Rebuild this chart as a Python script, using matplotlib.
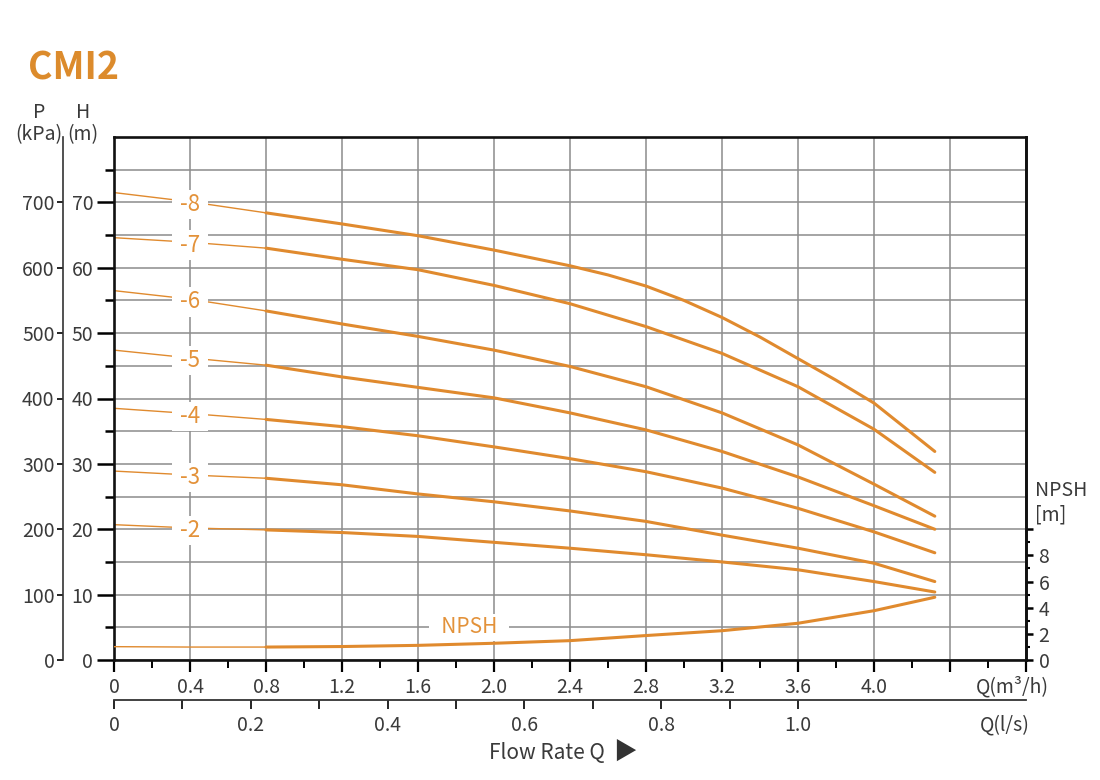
import numpy as np
import matplotlib
matplotlib.use("Agg")
import matplotlib.pyplot as plt
from matplotlib.ticker import FixedLocator, FixedFormatter

plt.rcParams['font.family'] = ['Noto Sans CJK SC', 'DejaVu Sans']

# flow rate (m3/h) and head (m) for each stage count
flow = [0, 0.4, 0.8, 1.2, 1.6, 2.0, 2.4, 2.8, 3.2, 3.6, 4.0, 4.32]
head_7 = [64.6, 63.9, 63.0, 61.3, 59.7, 57.3, 54.5, 51.0, 46.9, 41.8, 35.3, 28.7]
head_6 = [56.5, 55.2, 53.4, 51.4, 49.5, 47.4, 44.9, 41.8, 37.8, 32.9, 26.9, 22.0]
head_5 = [47.4, 46.2, 45.1, 43.3, 41.7, 40.1, 37.8, 35.2, 31.9, 28.0, 23.6, 20.0]
head_4 = [38.5, 37.7, 36.8, 35.7, 34.3, 32.6, 30.8, 28.8, 26.3, 23.2, 19.6, 16.4]
head_3 = [28.9, 28.3, 27.8, 26.8, 25.4, 24.2, 22.8, 21.2, 19.1, 17.1, 14.8, 12.0]
head_2 = [20.7, 20.2, 19.9, 19.5, 18.9, 18.0, 17.1, 16.1, 15.0, 13.8, 12.0, 10.4]
npsh = [1.02, 0.99, 0.99, 1.03, 1.12, 1.28, 1.48, 1.87, 2.24, 2.81, 3.77, 4.80]

# the -8 curve bends harder, read at more points
flow_8 = [0, 0.4, 0.8, 1.2, 1.6, 2.0, 2.4, 2.6, 2.8, 3.0, 3.2, 3.4, 3.6, 3.8, 4.0, 4.32]
head_8 = [71.5, 70.1, 68.4, 66.7, 64.9, 62.7, 60.3, 58.9, 57.2, 55.0, 52.4, 49.4, 46.1,
          42.8, 39.3, 31.9]

curve_names = ['-8', '-7', '-6', '-5', '-4', '-3', '-2']
curve_flows = [flow_8, flow, flow, flow, flow, flow, flow]
curves = [head_8, head_7, head_6, head_5, head_4, head_3, head_2]

qm3_labels = ['0', '0.4', '0.8', '1.2', '1.6', '2.0', '2.4', '2.8', '3.2', '3.6', '4.0', '', '']
ls_labels = ['0', '0.2', '0.4', '0.6', '0.8', '1.0']
npsh_labels = ['0', '2', '4', '6', '8', '']

ORANGE = '#E08A2E'
LABEL_OR = '#E3923A'
TXT = '#3a3a3a'
GRID = '#8c8c8c'


def draw_curve(axis, qs, vals):
    # thin near shut-off, thick afterwards
    qs = np.array(qs)
    vals = np.array(vals)
    lo = qs <= 0.8
    hi = qs >= 0.8
    axis.plot(qs[lo], vals[lo], color=ORANGE, lw=1.0, zorder=2, solid_capstyle='round')
    axis.plot(qs[hi], vals[hi], color=ORANGE, lw=2.2, zorder=2, solid_capstyle='round',
              solid_joinstyle='round')


fig = plt.figure(figsize=(11, 7.8), dpi=100)
ax = fig.add_axes([114 / 1100, 120 / 780, 912 / 1100, 523 / 780])
ax.set_xlim(0, 4.8)
ax.set_ylim(0, 80)

# grid
ax.set_axisbelow(True)
ax.xaxis.set_major_locator(FixedLocator(np.arange(0, 4.81, 0.4)))
ax.xaxis.set_minor_locator(FixedLocator(np.arange(0.2, 4.8, 0.4)))
ax.xaxis.set_major_formatter(FixedFormatter(qm3_labels))
ax.yaxis.set_major_locator(FixedLocator(np.arange(0, 71, 10)))
ax.yaxis.set_minor_locator(FixedLocator(np.arange(5, 80, 10)))
ax.grid(which='major', axis='x', color=GRID, lw=1.1)
ax.grid(which='both', axis='y', color=GRID, lw=1.1)

for s in ax.spines.values():
    s.set_linewidth(1.9)
    s.set_color('#111111')

ax.tick_params(axis='y', which='major', direction='out', length=12, width=1.8,
               labelsize=14, labelcolor=TXT, pad=3)
ax.tick_params(axis='y', which='minor', direction='out', length=6.5, width=1.8)
ax.tick_params(axis='x', which='major', direction='out', length=8.5, width=1.6,
               labelsize=14, labelcolor=TXT, pad=4)
ax.tick_params(axis='x', which='minor', direction='out', length=5.5, width=1.4)

for name, qs, h in zip(curve_names, curve_flows, curves):
    draw_curve(ax, qs, h)
    ax.annotate(f' {name} ', xy=(0.4, np.interp(0.4, qs, h)), xytext=(0, -2),
                textcoords='offset points', color=LABEL_OR, fontsize=16,
                ha='center', va='center', zorder=4,
                bbox=dict(boxstyle='square,pad=0.14', fc='white', ec='none'))

# P (kPa) axis further left
ax_p = ax.twinx()
ax_p.set_ylim(0, 800)
for k in ['top', 'bottom', 'right']:
    ax_p.spines[k].set_visible(False)
ax_p.spines['left'].set_visible(True)
ax_p.spines['left'].set_position(('axes', -0.056))
ax_p.spines['left'].set_linewidth(1.2)
ax_p.spines['left'].set_color('#333333')
ax_p.yaxis.set_ticks_position('left')
ax_p.set_yticks(np.arange(0, 701, 100))
ax_p.tick_params(axis='y', direction='out', length=4.5, width=1.2,
                 labelsize=14, labelcolor=TXT, pad=1.5)

# NPSH axis on the right
ax_n = ax.twinx()
ax_n.set_ylim(0, 40)
for k in ['top', 'bottom', 'left']:
    ax_n.spines[k].set_visible(False)
ax_n.spines['right'].set_linewidth(1.9)
ax_n.spines['right'].set_color('#111111')
ax_n.yaxis.set_major_locator(FixedLocator(np.arange(0, 11, 2)))
ax_n.yaxis.set_minor_locator(FixedLocator(np.arange(1, 10, 2)))
ax_n.yaxis.set_major_formatter(FixedFormatter(npsh_labels))
ax_n.tick_params(axis='y', which='major', direction='out', length=5, width=1.8,
                 labelsize=14, labelcolor=TXT, pad=4)
ax_n.tick_params(axis='y', which='minor', direction='out', length=3, width=1.5)
draw_curve(ax_n, flow, npsh)
ax_n.text(1.87, 2.5, '  NPSH  ', color=LABEL_OR, fontsize=15, ha='center', va='center',
          bbox=dict(boxstyle='square,pad=0.12', fc='white', ec='none'), zorder=4)

# l/s axis under the m3/h axis
sec = ax.secondary_xaxis(-0.0765, functions=(lambda x: x / 3.6, lambda x: x * 3.6))
sec.xaxis.set_major_locator(FixedLocator(np.arange(0, 1.01, 0.2)))
sec.xaxis.set_minor_locator(FixedLocator(np.arange(0.1, 1.0, 0.2)))
sec.xaxis.set_major_formatter(FixedFormatter(ls_labels))
sec.spines['bottom'].set_linewidth(1.3)
sec.spines['bottom'].set_color('#333333')
sec.tick_params(which='both', direction='out', length=6.5, width=1.2,
                labelsize=14, labelcolor=TXT, pad=4)

# texts
fig.text(28 / 1100, 1 - 68 / 780, 'CMI2', color='#DC8B2C', fontsize=27,
         fontweight='bold', ha='left', va='center')
fig.text(39 / 1100, 1 - 113 / 780, 'P', color=TXT, fontsize=14, ha='center', va='center')
fig.text(39 / 1100, 1 - 135 / 780, '(kPa)', color=TXT, fontsize=14, ha='center', va='center')
fig.text(83 / 1100, 1 - 113 / 780, 'H', color=TXT, fontsize=14, ha='center', va='center')
fig.text(83 / 1100, 1 - 135 / 780, '(m)', color=TXT, fontsize=14, ha='center', va='center')
fig.text(1035 / 1100, 1 - 490 / 780, 'NPSH', color=TXT, fontsize=14, ha='left', va='center')
fig.text(1035 / 1100, 1 - 515 / 780, '[m]', color=TXT, fontsize=14, ha='left', va='center')
fig.text(1012 / 1100, 1 - 687 / 780, 'Q(m³/h)', color=TXT, fontsize=14, ha='center', va='center')
fig.text(1005 / 1100, 1 - 725 / 780, 'Q(l/s)', color=TXT, fontsize=14, ha='center', va='center')
fig.text(547 / 1100, 1 - 753 / 780, 'Flow Rate Q', color=TXT, fontsize=15,
         ha='center', va='center')
fig.text(625 / 1100, 1 - 752 / 780, '▶', color='#333333', fontsize=17,
         ha='center', va='center')

fig.savefig('out.png', dpi=100, facecolor='white')
